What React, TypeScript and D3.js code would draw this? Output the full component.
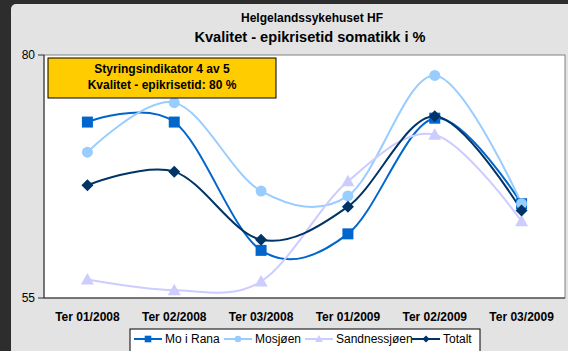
import React from "react";
import * as d3 from "d3";

const categories = ["Ter 01/2008", "Ter 02/2008", "Ter 03/2008", "Ter 01/2009", "Ter 02/2009", "Ter 03/2009"];
const moIRana = [73.1, 73.1, 59.9, 61.6, 73.5, 64.7];
const mosjoen = [70.0, 75.1, 66.0, 65.5, 77.9, 64.7];
const sandnessjoen = [56.9, 55.8, 56.7, 67.0, 71.8, 62.9];
const totalt = [66.6, 68.0, 61.0, 64.4, 73.7, 64.0];
const yTicks = [55, 80];

type MarkerKind = "square" | "circle" | "triangle" | "diamond";
type Series = { name: string; values: number[]; color: string; marker: MarkerKind };

const series: Series[] = [
  { name: "Mo i Rana", values: moIRana, color: "#0066CC", marker: "square" },
  { name: "Mosjøen", values: mosjoen, color: "#99CCFF", marker: "circle" },
  { name: "Sandnessjøen", values: sandnessjoen, color: "#CCCCFF", marker: "triangle" },
  { name: "Totalt", values: totalt, color: "#003366", marker: "diamond" },
];

const W = 568;
const H = 351;
const plot = { left: 44, right: 565, top: 55, bottom: 298 };
const font = "'Liberation Sans', Arial, sans-serif";

function Marker({ kind, x, y, color, s = 1 }: { kind: MarkerKind; x: number; y: number; color: string; s?: number }) {
  if (kind === "square") return <rect x={x - 5.5 * s} y={y - 5.5 * s} width={11 * s} height={11 * s} fill={color} />;
  if (kind === "circle") return <circle cx={x} cy={y} r={5.5 * s} fill={color} />;
  if (kind === "triangle")
    return <path d={`M${x},${y - 6.5 * s}L${x + 6.5 * s},${y + 5 * s}L${x - 6.5 * s},${y + 5 * s}Z`} fill={color} />;
  return <path d={`M${x},${y - 6 * s}L${x + 6 * s},${y}L${x},${y + 6 * s}L${x - 6 * s},${y}Z`} fill={color} />;
}

export default function App() {
  const x = d3.scaleBand<string>().domain(categories).range([plot.left, plot.right]);
  const y = d3.scaleLinear().domain([55, 80]).range([plot.bottom, plot.top]);
  const cx = (c: string) => (x(c) ?? 0) + x.bandwidth() / 2;
  const line = d3
    .line<number>()
    .x((_, i) => cx(categories[i]))
    .y((v) => y(v))
    .curve(d3.curveCardinal.tension(0));

  const legendItems = [
    { s: series[0], lx: 134 },
    { s: series[1], lx: 224 },
    { s: series[2], lx: 305 },
    { s: series[3], lx: 412 },
  ];
  const legendY = 339;

  return (
    <svg width={W} height={H} style={{ position: "absolute", left: 0, top: 0, display: "block" }} fontFamily={font}>
      <rect x={0} y={0} width={W} height={H} fill="#2d2d2d" />
      <rect x={11} y={4} width={W} height={H + 10} rx={5} fill="#e3e3e3" />

      <text x={312} y={22} textAnchor="middle" fontSize={12} fontWeight="bold" fill="#000">
        Helgelandssykehuset HF
      </text>
      <text x={310} y={42} textAnchor="middle" fontSize={14.6} fontWeight="bold" fill="#000">
        Kvalitet - epikrisetid somatikk i %
      </text>

      <rect x={plot.left} y={plot.top} width={plot.right - plot.left} height={plot.bottom - plot.top} fill="#fff" stroke="#808080" strokeWidth={1} />
      <line x1={plot.left} x2={plot.left} y1={plot.top} y2={plot.bottom} stroke="#333" />
      <line x1={plot.left} x2={plot.right} y1={plot.bottom} y2={plot.bottom} stroke="#333" />

      {yTicks.map((t) => (
        <g key={t}>
          <line x1={plot.left - 6} x2={plot.left} y1={y(t)} y2={y(t)} stroke="#333" />
          <text x={35} y={y(t) + 4} textAnchor="end" fontSize={12} fill="#000">
            {t}
          </text>
        </g>
      ))}

      {categories.map((c) => (
        <text key={c} x={cx(c)} y={321} textAnchor="middle" fontSize={12} fontWeight="bold" fill="#000">
          {c}
        </text>
      ))}

      {series.map((s) => (
        <path key={s.name} d={line(s.values) ?? ""} fill="none" stroke={s.color} strokeWidth={2} />
      ))}
      {series.map((s) =>
        s.values.map((v, i) => <Marker key={s.name + i} kind={s.marker} x={cx(categories[i])} y={y(v)} color={s.color} />)
      )}

      <rect x={48} y={58} width={228} height={40} fill="#FFCC00" stroke="#000" strokeWidth={1} />
      <text x={162} y={73} textAnchor="middle" fontSize={12} fontWeight="bold" fill="#000">
        Styringsindikator 4 av 5
      </text>
      <text x={162} y={89} textAnchor="middle" fontSize={12} fontWeight="bold" fill="#000">
        Kvalitet - epikrisetid: 80 %
      </text>

      <rect x={130} y={329} width={350} height={30} fill="#fff" stroke="#000" strokeWidth={1} />
      {legendItems.map(({ s, lx }) => (
        <g key={s.name}>
          <line x1={lx} x2={lx + 28} y1={legendY} y2={legendY} stroke={s.color} strokeWidth={2} />
          <Marker kind={s.marker} x={lx + 14} y={legendY} color={s.color} s={0.6} />
          <text x={lx + 31} y={legendY + 4} fontSize={12} fill="#000">
            {s.name}
          </text>
        </g>
      ))}
    </svg>
  );
}
